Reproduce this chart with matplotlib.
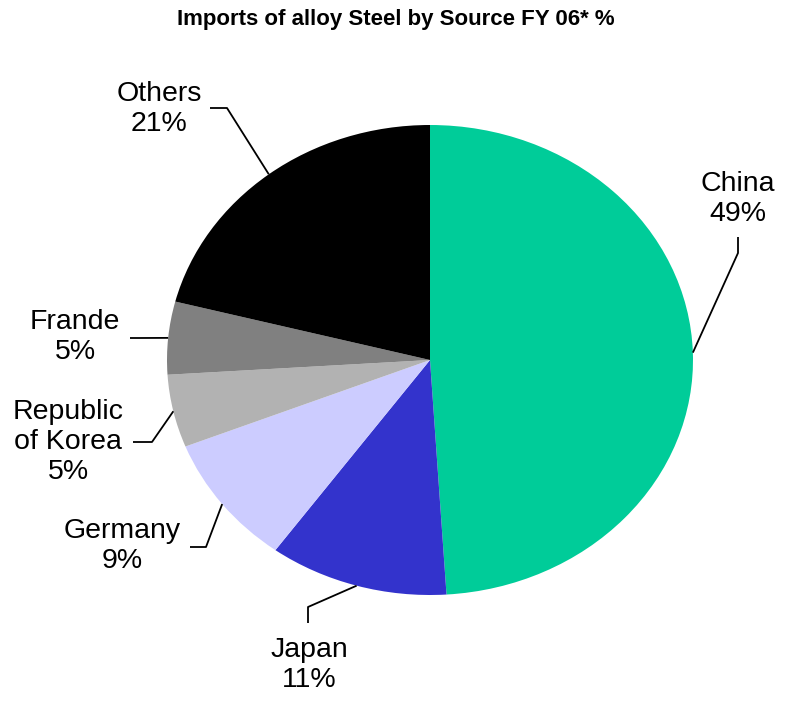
import numpy as np
import matplotlib.pyplot as plt

plt.rcParams['font.family'] = ['Liberation Sans', 'DejaVu Sans']

sources = ["China", "Japan", "Germany", "Republic\nof Korea", "Frande", "Others"]
shares = [49, 11, 9, 5, 5, 21]
colors = ["#00CC99", "#3333CC", "#CCCCFF", "#B2B2B2", "#808080", "#000000"]

# pie centre and radii in pixels (the pie is drawn as an ellipse)
CX, CY, RX, RY = 430, 360, 263, 235
W, H = 792, 707


def px(x, y):
    return (x - CX) / RX, (CY - y) / RY


fig = plt.figure(figsize=(W / 100, H / 100), dpi=100)
ax = fig.add_axes([0, 0, 1, 1])
wedges, _ = ax.pie(shares, colors=colors, startangle=90, counterclock=False,
                   radius=1, wedgeprops=dict(linewidth=0))
ax.set_aspect('auto')
ax.set_xlim(px(0, 0)[0], px(W, 0)[0])
ax.set_ylim(px(0, H)[1], px(0, 0)[1])
ax.axis('off')

# label centre and elbow points (pixels)
label_pos = [(738, 199), (309, 665), (122, 546), (68, 442), (75, 337), (159, 109)]
elbows = [
    [(738, 253), (738, 237)],
    [(308, 607), (308, 623)],
    [(206, 547), (190, 547)],
    [(152, 442), (133, 442)],
    [(140, 338), (130, 338)],
    [(227, 108), (210, 108)],
]

for w, name, val, lp, el in zip(wedges, sources, shares, label_pos, elbows):
    mid = np.deg2rad((w.theta1 + w.theta2) / 2)
    xs = [np.cos(mid)] + [px(*p)[0] for p in el]
    ys = [np.sin(mid)] + [px(*p)[1] for p in el]
    ax.plot(xs, ys, color='black', lw=1.3, solid_capstyle='butt')
    tx, ty = px(*lp)
    ax.text(tx, ty, f"{name}\n{val}%", ha='center', va='center',
            fontsize=20.5, linespacing=1.2)

fig.text(0.5, 1 - 20 / H, "Imports of alloy Steel by Source FY 06* %",
         ha='center', va='center', fontsize=16, fontweight='bold')

fig.savefig("out.png", dpi=100)
